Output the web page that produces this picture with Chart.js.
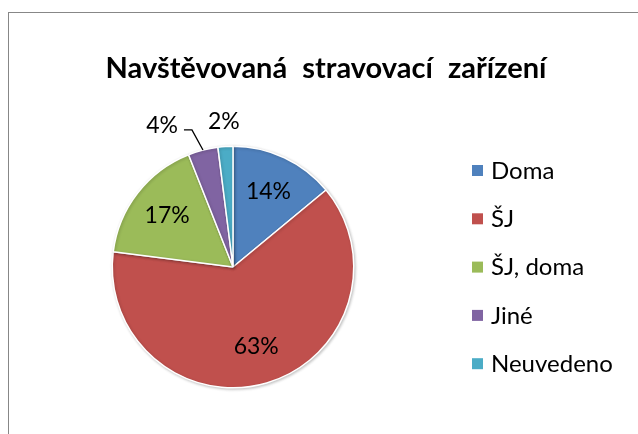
<!DOCTYPE html>
<html>
<head>
<meta charset="utf-8">
<script src="https://cdn.jsdelivr.net/npm/chart.js@4"></script>
<style>
  html, body { margin: 0; padding: 0; background: #fff; }
  #wrap { width: 638px; height: 434px; position: relative; }
</style>
</head>
<body>
<div id="wrap"><canvas id="pie"></canvas></div>
<script>
var chartTitle = 'Navštěvovaná stravovací zařízení';
var categories = ['Doma', 'ŠJ', 'ŠJ, doma', 'Jiné', 'Neuvedeno'];
var shares = [14, 63, 17, 4, 2];
var sliceColors = ['#4F81BD', '#C0504D', '#9BBB59', '#8064A2', '#4BACC6'];

var FONT = 'Lato, "Noto Sans", sans-serif';

// frame, title, legend and the percent labels (Excel style)
var decor = {
    id: 'decor',
    beforeDraw: function(chart) {
        var ctx = chart.ctx;
        ctx.save();
        ctx.fillStyle = '#fff';
        ctx.fillRect(0, 0, chart.width, chart.height);
        ctx.strokeStyle = '#878787';
        ctx.lineWidth = 1;
        ctx.strokeRect(8.5, 12.5, chart.width + 20, chart.height + 20);
        ctx.restore();
    },
    beforeDatasetDraw: function(chart) {
        var ctx = chart.ctx;
        ctx.save();
        ctx.shadowColor = 'rgba(0,0,0,0.22)';
        ctx.shadowBlur = 3;
        ctx.shadowOffsetX = 1;
        ctx.shadowOffsetY = 1;
    },
    afterDatasetDraw: function(chart) {
        chart.ctx.restore();
    },
    afterDraw: function(chart) {
        var ctx = chart.ctx, i;
        ctx.save();

        // title
        ctx.fillStyle = '#000';
        ctx.font = 'bold 29px ' + FONT;
        ctx.textAlign = 'center';
        ctx.textBaseline = 'alphabetic';
        if ('wordSpacing' in ctx) ctx.wordSpacing = '8px';
        ctx.fillText(chartTitle, 326, 78);
        if ('wordSpacing' in ctx) ctx.wordSpacing = '0px';

        // legend
        ctx.font = '24px ' + FONT;
        ctx.textAlign = 'left';
        ctx.textBaseline = 'middle';
        for (i = 0; i < categories.length; i++) {
            var ly = 170 + i * 48.3;
            ctx.fillStyle = sliceColors[i];
            ctx.fillRect(472, ly - 5, 11, 11);
            ctx.fillStyle = '#000';
            ctx.fillText(categories[i], 491, ly + 1);
        }

        // percent labels
        var arcs = chart.getDatasetMeta(0).data;
        ctx.font = '23px ' + FONT;
        ctx.textAlign = 'center';
        var outside = [];
        for (i = 0; i < arcs.length; i++) {
            var p = arcs[i].getProps(['x', 'y', 'startAngle', 'endAngle', 'outerRadius'], true);
            var mid = (p.startAngle + p.endAngle) / 2;
            var txt = shares[i] + '%';
            if (shares[i] >= 5) {
                var rr = p.outerRadius * 0.69;
                ctx.fillText(txt, p.x + Math.cos(mid) * rr, p.y + Math.sin(mid) * rr);
            } else {
                var ro = p.outerRadius + 25;
                outside.push({
                    txt: txt,
                    x: p.x + Math.cos(mid) * ro,
                    y: p.y + Math.sin(mid) * ro,
                    w: ctx.measureText(txt).width,
                    ex: p.x + Math.cos(mid) * p.outerRadius,
                    ey: p.y + Math.sin(mid) * p.outerRadius
                });
            }
        }
        // push overlapping outside labels to the left, with a leader line
        var limit = Infinity;
        for (i = outside.length - 1; i >= 0; i--) {
            var o = outside[i];
            var moved = false;
            if (o.x + o.w / 2 > limit) {
                o.x = limit - o.w / 2;
                moved = true;
            }
            ctx.fillStyle = '#000';
            ctx.fillText(o.txt, o.x, o.y);
            if (moved) {
                var right = o.x + o.w / 2;
                ctx.strokeStyle = '#000';
                ctx.lineWidth = 1.3;
                ctx.beginPath();
                ctx.moveTo(o.ex, o.ey);
                ctx.lineTo(right + 14, o.y + 4);
                ctx.lineTo(right + 6, o.y + 4);
                ctx.stroke();
            }
            limit = o.x - o.w / 2 - 30;
        }
        ctx.restore();
    }
};

new Chart(document.getElementById('pie'), {
    type: 'pie',
    data: {
        labels: categories,
        datasets: [{
            data: shares,
            backgroundColor: sliceColors,
            borderColor: '#fff',
            borderWidth: 1.5
        }]
    },
    options: {
        responsive: true,
        maintainAspectRatio: false,
        animation: false,
        layout: { padding: { left: 111.5, right: 283.5, top: 145.5, bottom: 45.5 } },
        plugins: {
            legend: { display: false },
            title: { display: false },
            tooltip: { enabled: false }
        }
    },
    plugins: [decor]
});
</script>
</body>
</html>
